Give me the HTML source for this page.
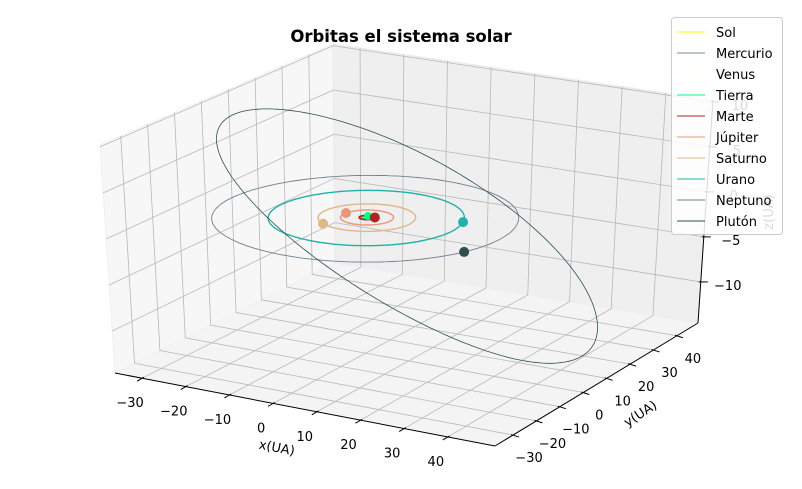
<!DOCTYPE html>
<html><head><meta charset="utf-8">
<style>
html,body{margin:0;padding:0;background:#fff;}
svg{display:block;font-family:"DejaVu Sans","Liberation Sans",sans-serif;}
</style></head>
<body>
<svg id="chart" width="802" height="489" viewBox="0 0 802 489" xmlns="http://www.w3.org/2000/svg">
<rect width="802" height="489" fill="#fff"/>
<g id="panes"></g>
<g id="grid"></g>
<g id="axes"></g>
<g id="orbits"></g>
<g id="dots"></g>
<text x="401" y="42" text-anchor="middle" font-size="16.5" font-weight="bold" fill="#000">Orbitas el sistema solar</text>
<g id="legend"></g>
</svg>
<script>
// ---- data ----
const planetNames = ["Sol","Mercurio","Venus","Tierra","Marte","Júpiter","Saturno","Urano","Neptuno","Plutón"];
const planetColors = ["#ffff00","#778899","#fffde0","#00ff7f","#b22222","#e9967a","#deb887","#20b2aa","#708090","#2f4f4f"];
const orbitRadii = [0, 0.39, 0.72, 1.0, 1.52, 5.2, 9.54, 19.2, 30.06];
const planetAngles = [0, 60, 200, 110, 30, 172, 236, 20, -21];
const markerPlanets = [3,4,5,6,7,8];
const markerColors = ["#00ff7f","#b22222","#e9967a","#deb887","#20b2aa","#2f4f4f"];
const plutoCenter = [9.4, 2.4, -1.2];
const plutoMajor = [36.1, 9.6, -11.0];
const plutoMinor = [-8.8, 37.5, 0];
const xTicks = [-30,-20,-10,0,10,20,30,40];
const yTicks = [-30,-20,-10,0,10,20,30,40];
const zTicks = [-10,-5,0,5,10];
const zTickLabels = ["\u221210","\u22125","0","5","10"];

// ---- projection (axis box) ----
const xmin=-36.2,xmax=50.8,ymin=-37.7,ymax=49.0,zmin=-14.56,zmax=10.2;
const A=[115,373],B=[495,446],C=[698,323],D=[335,263];
const A2=[100,145],B2=[503,206],C2=[713,100],D2=[333,44];
function bil(a,b,c,d,u,v){return [0,1].map(i=>a[i]+u*(b[i]-a[i])+v*(d[i]-a[i])+u*v*(a[i]-b[i]+c[i]-d[i]));}
function P(x,y,z){
  const u=(x-xmin)/(xmax-xmin),v=(y-ymin)/(ymax-ymin),w=(z-zmin)/(zmax-zmin);
  const f=bil(A,B,C,D,u,v),t=bil(A2,B2,C2,D2,u,v);
  const bump=64*u*(1-u)*v*(1-v)*w*(1-w);
  return [f[0]+w*(t[0]-f[0])+2*bump, f[1]+w*(t[1]-f[1])-2*bump];
}
const NS="http://www.w3.org/2000/svg";
function mk(tag,attrs,parent){const e=document.createElementNS(NS,tag);for(const k in attrs)e.setAttribute(k,attrs[k]);parent.appendChild(e);return e;}
function pts(arr){return arr.map(p=>p[0].toFixed(1)+","+p[1].toFixed(1)).join(" ");}

const panes=document.getElementById("panes");
let e;
e=mk("polygon",{points:pts([P(xmin,ymin,zmin),P(xmin,ymax,zmin),P(xmin,ymax,zmax),P(xmin,ymin,zmax)]),fill:"#f7f7f7",stroke:"#f0f0f0"},panes);


e=mk("polygon",{points:pts([P(xmin,ymax,zmin),P(xmax,ymax,zmin),P(xmax,ymax,zmax),P(xmin,ymax,zmax)]),fill:"#efefef",stroke:"#eaeaea"},panes);


e=mk("polygon",{points:pts([P(xmin,ymin,zmin),P(xmax,ymin,zmin),P(xmax,ymax,zmin),P(xmin,ymax,zmin)]),fill:"#f4f4f4",stroke:"#efefef"},panes);



const grid=document.getElementById("grid");
function gl(p,q,name){const l=mk("line",{x1:p[0],y1:p[1],x2:q[0],y2:q[1],stroke:"#b8b8b8","stroke-width":0.8},grid);
  
  }
xTicks.forEach(x=>{gl(P(x,ymin,zmin),P(x,ymax,zmin),'x-grid-floor');gl(P(x,ymax,zmin),P(x,ymax,zmax),'x-grid-back');});
yTicks.forEach(y=>{gl(P(xmin,y,zmin),P(xmax,y,zmin),'y-grid-floor');gl(P(xmin,y,zmin),P(xmin,y,zmax),'y-grid-left');});
zTicks.forEach(z=>{gl(P(xmin,ymin,z),P(xmin,ymax,z),'z-grid-left');gl(P(xmin,ymax,z),P(xmax,ymax,z),'z-grid-back');});

const axes=document.getElementById("axes");
function al(p,q,name,w){const l=mk("line",{x1:p[0],y1:p[1],x2:q[0],y2:q[1],stroke:"#000","stroke-width":w},axes);
  
  }
al(P(xmin,ymin,zmin),P(xmax,ymin,zmin),'x-axis-line',1);
al(P(xmax,ymin,zmin),P(xmax,ymax,zmin),'y-axis-line',1);
al(P(xmax,ymax,zmin),P(xmax,ymax,zmax),'z-axis-line',1);
function tl(x,y,txt,name,anchor,extra){const t=mk("text",Object.assign({x:x,y:y,"font-size":13,fill:"#000","text-anchor":anchor||"middle"},extra||{}),axes);t.textContent=txt;
  
  return t;}
xTicks.forEach(x=>{const p=P(x,ymin,zmin);al([p[0]+1.7,p[1]-1],[p[0]-5,p[1]+3],'x-tick',1);
  tl(p[0]-12,p[1]+29,x<0?"\u2212"+(-x):""+x,'x-tick-label');});
yTicks.forEach(y=>{const p=P(xmax,y,zmin);al([p[0]-2,p[1]-0.5],[p[0]+6,p[1]+2],'y-tick',1);
  tl(p[0]+16,p[1]+27,y<0?"\u2212"+(-y):""+y,'y-tick-label');});
zTicks.forEach((z,i)=>{const p=P(xmax,ymax,z);al([p[0]-2,p[1]],[p[0]+7,p[1]],'z-tick',1);
  tl(p[0]+27,p[1]+8,zTickLabels[i],'z-tick-label');});
tl(277,452,"x(UA)",'x-axis-title','middle',{transform:"rotate(11 277 447)"});
tl(640,418,"y(UA)",'y-axis-title','middle',{transform:"rotate(-33 640 413)"});
tl(768,217,"z(UA)",'z-axis-title','middle',{transform:"rotate(-90 768 212)"});

// ---- orbits ----
const orbits=document.getElementById("orbits");
const N=240;
for(let i=1;i<orbitRadii.length;i++){
  const r=orbitRadii[i],arr=[];
  for(let k=0;k<=N;k++){const a=2*Math.PI*k/N;arr.push(P(r*Math.cos(a),r*Math.sin(a),0));}
  const lw = (i>=5&&i<=7)?1.4:(i<=4?1.6:0.9);
  const pl=mk("polyline",{points:pts(arr),fill:"none",stroke:planetColors[i],"stroke-width":lw},orbits);
  
  
}
{
  const arr=[];
  for(let k=0;k<=N;k++){const a=2*Math.PI*k/N,c=Math.cos(a),s=Math.sin(a);
    arr.push(P(plutoCenter[0]+c*plutoMajor[0]+s*plutoMinor[0],plutoCenter[1]+c*plutoMajor[1]+s*plutoMinor[1],plutoCenter[2]+c*plutoMajor[2]+s*plutoMinor[2]));}
  const pl=mk("polyline",{points:pts(arr),fill:"none",stroke:planetColors[9],"stroke-width":0.8},orbits);
  
  
}
// ---- markers ----
const dots=document.getElementById("dots");
{const p=P(0,0,0);const s=mk("circle",{cx:p[0],cy:p[1],r:2,fill:"#ffff00"},dots);
  
  }
markerPlanets.forEach((idx,j)=>{
  const r=orbitRadii[idx],a=planetAngles[idx]*Math.PI/180;
  const p=P(r*Math.cos(a),r*Math.sin(a),0);
  const c=mk("circle",{cx:p[0],cy:p[1],r:(idx===3?4:5),fill:markerColors[j]},dots);
  
  
});

// ---- legend ----
const lg=document.getElementById("legend");
e=mk("rect",{x:671.5,y:17.5,width:111,height:217,rx:3,fill:"#ffffff","fill-opacity":0.85,stroke:"#cccccc"},lg);


planetNames.forEach((n,i)=>{
  const y=32+i*21;
  const g=mk("g",{},lg);
  
  
  mk("line",{x1:677,y1:y,x2:705,y2:y,stroke:planetColors[i],"stroke-width":1},g);
  const t=mk("text",{x:716,y:y+5,"font-size":13,fill:"#000"},g);t.textContent=n;
});
</script>
</body></html>
